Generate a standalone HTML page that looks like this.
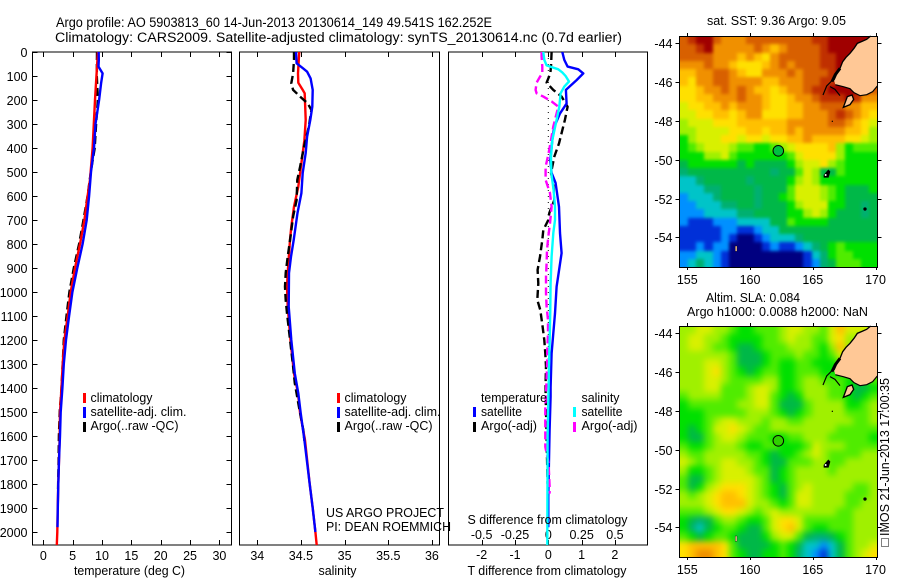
<!DOCTYPE html>
<html>
<head>
<meta charset="utf-8">
<title>Argo profile</title>
<style>
html,body{margin:0;padding:0;background:#fff;}
svg{display:block;}
text{font-family:"Liberation Sans",sans-serif;font-size:12.5px;fill:#000;}
.title{font-size:13.5px;}
</style>
</head>
<body>
<svg id="root" xmlns="http://www.w3.org/2000/svg" width="900" height="580" viewBox="0 0 900 580">
  <defs>
    <filter id="sst-soften" color-interpolation-filters="sRGB"><feGaussianBlur stdDeviation="1.6"/></filter>
    <filter id="sla-soften" color-interpolation-filters="sRGB"><feGaussianBlur stdDeviation="3.2"/></filter>
    <clipPath id="sst-clip"><rect x="679.5" y="36" width="198" height="231"/></clipPath>
    <clipPath id="sla-clip"><rect x="679.5" y="326" width="198" height="231"/></clipPath>
  </defs>
  <rect x="0" y="0" width="900" height="580" fill="#fff"/>
  <text class="title" x="56" y="27" textLength="436" lengthAdjust="spacingAndGlyphs">Argo profile: AO 5903813_60 14-Jun-2013 20130614_149 49.541S 162.252E</text>
  <text class="title" x="55" y="42" textLength="567" lengthAdjust="spacingAndGlyphs">Climatology: CARS2009. Satellite-adjusted climatology: synTS_20130614.nc (0.7d earlier)</text>

  <g id="plots"></g>

  <g>
    <rect x="83" y="393" width="3" height="10" fill="#f00"/>
    <rect x="83" y="407" width="3" height="11" fill="#00f"/>
    <rect x="83" y="422" width="3" height="10" fill="#000"/>
    <text x="90.5" y="402" textLength="62" lengthAdjust="spacingAndGlyphs">climatology</text>
    <text x="90.5" y="416" textLength="96" lengthAdjust="spacingAndGlyphs">satellite-adj. clim.</text>
    <text x="90.5" y="430" textLength="88" lengthAdjust="spacingAndGlyphs">Argo(..raw -QC)</text>
  </g>
  <g>
    <rect x="337" y="393" width="3" height="10" fill="#f00"/>
    <rect x="337" y="407" width="3" height="11" fill="#00f"/>
    <rect x="337" y="422" width="3" height="10" fill="#000"/>
    <text x="344.5" y="402" textLength="62" lengthAdjust="spacingAndGlyphs">climatology</text>
    <text x="344.5" y="416" textLength="96" lengthAdjust="spacingAndGlyphs">satellite-adj. clim.</text>
    <text x="344.5" y="430" textLength="88" lengthAdjust="spacingAndGlyphs">Argo(..raw -QC)</text>
  </g>
  <g>
    <text x="481" y="402" textLength="66" lengthAdjust="spacingAndGlyphs">temperature</text>
    <text x="581.5" y="402" textLength="38" lengthAdjust="spacingAndGlyphs">salinity</text>
    <rect x="473" y="407" width="3" height="10" fill="#00f"/>
    <rect x="473" y="422" width="3" height="10" fill="#000"/>
    <rect x="573" y="407" width="3" height="10" fill="#0ff"/>
    <rect x="573" y="422" width="3" height="10" fill="#f0f"/>
    <text x="481" y="416" textLength="41" lengthAdjust="spacingAndGlyphs">satellite</text>
    <text x="481" y="430" textLength="56" lengthAdjust="spacingAndGlyphs">Argo(-adj)</text>
    <text x="581.5" y="416" textLength="41" lengthAdjust="spacingAndGlyphs">satellite</text>
    <text x="581.5" y="430" textLength="56" lengthAdjust="spacingAndGlyphs">Argo(-adj)</text>
  </g>

  <text x="326" y="517" textLength="118" lengthAdjust="spacingAndGlyphs">US ARGO PROJECT</text>
  <text x="326" y="531" textLength="125" lengthAdjust="spacingAndGlyphs">PI: DEAN ROEMMICH</text>

  <text x="74" y="575" textLength="111" lengthAdjust="spacingAndGlyphs">temperature (deg C)</text>
  <text x="318.5" y="575" textLength="38" lengthAdjust="spacingAndGlyphs">salinity</text>
  <text x="467.5" y="524" textLength="160" lengthAdjust="spacingAndGlyphs">S difference from climatology</text>
  <text x="467.5" y="575" textLength="159" lengthAdjust="spacingAndGlyphs">T difference from climatology</text>

  <text x="707" y="25" textLength="139" lengthAdjust="spacingAndGlyphs">sat. SST: 9.36 Argo: 9.05</text>
  <text x="706" y="302" textLength="94" lengthAdjust="spacingAndGlyphs">Altim. SLA: 0.084</text>
  <text x="687" y="316" textLength="181" lengthAdjust="spacingAndGlyphs">Argo h1000: 0.0088 h2000: NaN</text>

  <g id="maps"></g>

  <g>
    <rect x="881.5" y="538.5" width="7" height="8" fill="none" stroke="#000" stroke-width="1" stroke-dasharray="1 1"/>
  </g>
  <text transform="translate(889,536) rotate(-90)" x="0" y="0" textLength="158" lengthAdjust="spacingAndGlyphs">IMOS 21-Jun-2013 17:00:35</text>
</svg>

<script>
/* ---------- profile data ---------- */
const tempClimDepth = [0,200,400,533,600,700,800,900,1000,1100,1200,1300,1400,1500,1600,1700,1800,1900,2000,2054];
const tempClimValue = [9.3,8.8,8.4,7.95,7.55,7.0,6.25,5.4,4.67,4.15,3.6,3.3,3.1,2.85,2.8,2.67,2.55,2.45,2.38,2.3];
const tempSatDepth = [0,33,61,89,130,200,300,400,500,600,700,800,900,1000,1100,1200,1300,1400,1500,1600,1700,1800,1900,1980];
const tempSatValue = [9.43,9.45,9.4,10.1,9.85,9.5,8.9,8.63,8.13,7.8,7.4,6.7,5.8,4.95,4.4,3.87,3.5,3.25,2.97,2.85,2.67,2.55,2.47,2.42];
const tempArgoDepth = [0,100,200,300,400,500,600,700,800,900,1000,1100,1200,1300,1400,1500,1600,1700,1830];
const tempArgoValue = [9.15,9.12,9.3,9.0,8.75,8.1,7.55,6.85,6.1,5.2,4.45,3.95,3.5,3.3,3.1,2.8,2.65,2.6,2.5];

const salClimDepth = [0,89,128,158,172,283,367,421,504,561,645,728,783,921,978,1061,1200,1339,1422,1505,1617,1800,1900,2000,2054];
const salClimValue = [34.48,34.466,34.47,34.52,34.543,34.554,34.54,34.52,34.49,34.47,34.42,34.39,34.375,34.348,34.34,34.348,34.38,34.42,34.466,34.49,34.546,34.6,34.635,34.665,34.68];
const salSatDepth = [0,47,67,82,110,158,228,283,353,421,504,588,671,783,853,921,1061,1200,1339,1422,1505,1617,1800,1900,2000];
const salSatValue = [34.443,34.45,34.52,34.57,34.61,34.635,34.63,34.607,34.57,34.554,34.52,34.505,34.46,34.417,34.386,34.363,34.36,34.39,34.43,34.47,34.497,34.54,34.6,34.635,34.665];
const salArgoDepth = [0,33,89,130,158,186,215,242,311,395,478,533,617,686,770,853,921,978,1033,1089,1172,1311,1380,1478,1575,1620];
const salArgoValue = [34.42,34.42,34.41,34.39,34.41,34.49,34.58,34.62,34.59,34.535,34.49,34.458,34.45,34.41,34.38,34.348,34.325,34.317,34.325,34.34,34.367,34.41,34.43,34.477,34.527,34.54];

const diffTSatDepth = [0,33,61,72,89,117,158,215,256,311,367,450,504,546,645,754,838,894,978,1089,1172,1256,1397,1436,1575,1783,1854,1980];
const diffTSatValue = [0.42,0.48,0.58,0.9,1.05,0.85,0.53,0.55,0.35,0.18,0.12,0.06,0.1,0.22,0.32,0.35,0.4,0.34,0.25,0.2,0.15,0.1,0.07,0.07,0.04,0.01,0,0];
const diffTArgoDepth = [0,61,89,128,158,186,228,283,381,436,504,546,617,671,700,742,783,853,908,964,1033,1075,1144,1200,1256,1311,1380,1420,1800];
const diffTArgoValue = [0.1,0.08,0.06,-0.05,0.15,0.4,0.58,0.5,0.32,0.18,0.08,0.15,0.18,0.03,0,-0.15,-0.18,-0.25,-0.32,-0.3,-0.33,-0.24,-0.17,-0.12,-0.09,-0.07,-0.08,-0.08,-0.02];
const diffSSatDepth = [0,33,56,72,85,100,123,144,172,228,283,367,436,504,575,645,700,754,853,964,1075,1214,1311,1400,1600,2054];
const diffSSatValue = [-0.0375,-0.03,-0.0125,0.075,0.105,0.13,0.155,0.12,0.0925,0.0825,0.0625,0.03,0.02,0.0225,0.04,0.05,0.05,0.0375,0.025,0.0175,0.015,0.01,0.005,0.0025,-0.005,-0.0075];
const diffSArgoDepth = [0,19,61,89,103,128,158,172,186,206,228,256,311,367,428,478,533,588,645,714,769,825,880,936,1006,1060,1117,1172,1242,1311,1394,1478,1645,1714,1811,1840];
const diffSArgoValue = [-0.05,-0.05,-0.045,-0.045,-0.0625,-0.0875,-0.095,-0.0875,-0.0375,0.025,0.075,0.0625,0.0375,0.02,0,-0.02,-0.02,0.0125,0.025,0.0125,0,-0.01,-0.0125,-0.0175,-0.0175,-0.0125,-0.0025,-0.0025,-0.0075,-0.01,-0.015,-0.0225,-0.0225,0.0025,0.01,0.01];

/* ---------- tick labels ---------- */
const depthTicks = [0,100,200,300,400,500,600,700,800,900,1000,1100,1200,1300,1400,1500,1600,1700,1800,1900,2000];
const tempTicks = [0,5,10,15,20,25,30];
const salTicks = [34,34.5,35,35.5,36];
const diffTTicks = [-2,-1,0,1,2];
const diffSTicks = [-0.5,-0.25,0,0.25,0.5];
const mapLonTicks = [155,160,165,170];
const mapLatTicks = [-44,-46,-48,-50,-52,-54];

/* ---------- map grids: colour-level index per cell, north to south, west to east ---------- */
const mapLevelColors = ["#000080","#0030d8","#0090ff","#00c4c8","#00b070","#00b848","#00e000","#50ec00","#a0f000","#d8f000","#ffe000","#ffc000","#f09000","#d86000","#c03000","#a00000"];
const sstGrid = [
[13,14,15,15,13,12,12,12,13,13,13,13,13,13,13,13,14,14,15,15,15,15,15,15],
[13,13,14,15,12,12,12,12,12,13,12,11,12,13,13,13,13,14,15,15,15,15,15,15],
[13,13,13,13,12,12,12,11,12,11,10,12,13,13,13,13,13,14,14,15,15,15,15,15],
[12,12,12,13,12,12,11,10,10,10,11,12,13,12,13,13,13,14,14,15,15,15,15,15],
[11,11,12,12,13,13,12,11,10,10,12,12,12,13,12,13,13,13,14,15,15,15,15,15],
[11,10,12,12,13,13,12,12,12,12,11,11,12,12,12,13,13,14,14,15,15,15,15,15],
[10,10,11,12,12,13,12,13,12,11,11,10,11,12,12,13,14,14,15,15,15,15,15,13],
[10,10,11,11,12,12,12,13,12,12,11,10,10,11,12,12,13,14,14,14,15,14,12,12],
[9,10,10,11,11,12,11,12,12,12,11,10,10,11,11,12,12,13,13,13,12,12,11,11],
[9,9,10,10,11,11,10,11,12,12,10,10,10,11,11,12,12,12,13,14,13,12,11,10],
[8,9,9,9,10,10,10,11,11,11,11,11,11,12,12,12,12,12,13,13,12,11,10,9],
[8,8,9,9,9,9,10,10,11,11,10,11,11,12,11,12,12,12,12,12,11,11,10,8],
[6,8,9,9,9,10,10,9,10,10,9,10,10,11,11,12,11,11,11,11,10,10,9,8],
[6,7,8,9,9,9,8,7,7,6,6,7,8,9,10,10,10,10,11,8,6,7,7,7],
[6,6,6,8,8,9,7,6,6,6,6,6,6,7,9,10,10,10,10,8,6,6,6,6],
[5,6,6,6,6,6,6,5,6,5,5,5,5,6,8,9,9,10,8,7,6,6,6,6],
[4,5,5,5,5,5,5,5,5,5,5,4,5,5,7,9,8,5,5,7,6,6,6,6],
[3,3,4,5,5,5,5,5,4,5,5,5,5,6,8,9,8,6,6,6,6,6,6,6],
[3,3,3,4,4,5,5,5,5,4,5,5,5,7,9,9,9,8,7,6,5,5,5,6],
[2,3,3,3,4,5,5,5,5,4,5,5,6,7,9,9,9,8,7,6,5,5,5,5],
[2,2,3,3,3,4,4,5,5,4,5,5,5,6,8,9,9,9,6,6,5,5,4,5],
[2,2,2,3,3,3,3,4,4,5,5,5,5,6,6,8,9,8,6,5,5,5,4,5],
[2,1,1,1,2,2,2,3,3,3,3,5,5,7,6,6,6,6,5,5,5,5,5,5],
[1,1,1,1,1,2,2,1,1,2,3,3,5,5,5,5,5,5,5,5,5,5,5,5],
[1,1,1,1,1,2,1,0,0,1,2,3,3,3,4,5,5,5,5,5,5,5,5,5],
[1,1,2,1,2,2,0,0,0,0,1,2,1,1,2,3,4,5,6,7,6,6,6,6],
[2,2,3,3,2,1,0,0,0,0,0,0,0,0,0,1,3,4,6,7,7,6,6,6],
[2,3,4,3,2,1,0,0,0,0,0,0,0,0,0,1,2,4,5,7,7,7,6,6]
];
const slaGrid = [
[8,8,9,9,8,8,7,6,6,7,7,7,8,9,9,8,8,7,9,11,9,9,9,8],
[8,9,9,8,8,7,6,6,6,6,7,7,8,9,8,8,7,7,9,10,8,8,8,8],
[8,9,9,8,7,7,6,5,5,6,7,7,7,8,8,8,7,6,8,11,8,8,8,8],
[8,8,8,8,8,8,7,5,5,5,6,7,7,7,8,7,7,6,7,9,8,8,8,8],
[8,8,8,9,9,8,7,5,5,5,6,7,6,6,7,7,6,6,6,7,8,8,8,8],
[8,8,8,9,10,8,7,6,5,6,7,7,6,6,7,7,7,6,6,6,7,7,8,8],
[8,8,8,9,9,8,7,7,7,7,8,8,6,6,7,8,8,7,7,7,6,6,6,7],
[8,8,8,9,9,7,7,7,8,9,9,8,6,6,7,8,8,8,7,7,6,5,5,6],
[7,8,8,8,8,7,7,7,8,9,9,7,6,5,6,8,8,8,7,7,6,5,6,7],
[6,7,7,7,7,7,7,8,8,9,9,7,5,5,5,7,8,8,8,8,6,6,7,8],
[6,6,6,7,7,7,7,7,8,8,8,7,6,5,6,7,8,8,8,8,7,7,7,8],
[6,6,6,7,8,9,9,8,8,8,7,8,8,7,7,8,8,8,8,8,8,7,7,8],
[6,5,6,7,9,9,10,9,8,7,7,8,8,8,8,8,8,8,8,7,7,7,7,7],
[6,5,5,7,8,9,9,8,7,7,7,6,6,7,7,8,8,8,7,7,7,7,7,6],
[7,6,6,7,8,8,8,7,6,6,7,7,6,6,6,7,9,8,8,8,7,7,7,7],
[8,7,7,8,8,8,8,8,7,7,6,5,6,6,7,8,9,8,7,7,7,7,8,8],
[9,8,7,8,8,9,9,8,8,7,6,5,5,7,7,7,8,8,7,7,8,8,8,8],
[8,6,6,7,8,9,9,9,8,7,7,5,6,7,8,8,8,8,7,8,8,8,8,8],
[7,5,5,7,8,9,9,9,9,8,7,5,6,7,8,8,8,8,8,8,8,8,8,8],
[7,5,6,8,9,10,10,10,9,8,7,6,5,7,8,9,8,8,8,8,8,7,7,8],
[8,7,8,9,10,11,11,10,9,8,7,6,5,7,9,9,8,8,8,8,7,7,7,8],
[8,8,8,9,10,11,11,11,9,8,8,7,6,7,9,9,8,8,8,8,7,7,8,8],
[7,7,7,8,9,10,10,9,8,7,8,9,8,8,8,8,8,8,8,7,7,8,8,8],
[6,5,4,5,7,8,8,7,6,6,7,9,10,10,9,7,7,7,7,7,7,8,8,8],
[6,4,3,5,6,7,7,6,5,5,7,9,10,11,9,7,6,6,7,7,7,8,8,8],
[7,6,5,6,7,7,6,5,5,5,6,8,9,9,7,5,4,4,5,6,7,8,8,8],
[10,11,11,11,11,10,7,5,5,5,5,6,7,6,5,3,3,2,3,5,7,8,8,9],
[10,11,12,12,11,10,7,6,5,5,6,6,7,6,4,3,2,1,3,5,7,8,9,10]
];

/* ---------- helpers ---------- */
const NS = "http://www.w3.org/2000/svg";
const plots = document.getElementById("plots");
const maps = document.getElementById("maps");
function make(tag, attrs, parent, txt){
  const el = document.createElementNS(NS, tag);
  for (const k in attrs) el.setAttribute(k, attrs[k]);
  if (txt !== undefined) el.textContent = txt;
  parent.appendChild(el);
  return el;
}
const TOP = 52, BOTTOM = 545;
function yDepth(d){ return TOP + d * 0.24; }
function xTemp(v){ return 43.3 + 5.87 * v; }
function xSal(v){ return 257.3 + 87.3 * (v - 34); }
function xDiffT(v){ return 548.3 + 33.3 * v; }
function xDiffS(v){ return 548.3 + 133.3 * v; }
function fmt(v){ return String(v); }

function drawBox(name, x0, x1){
  const el = make("rect", {x:x0, y:TOP, width:x1-x0, height:BOTTOM-TOP, fill:"none", stroke:"#000", "stroke-width":1, "shape-rendering":"crispEdges"}, plots);
  
  
}
function drawXTicks(name, ticks, scale, labelY){
  ticks.forEach(function(t){
    const x = Math.round(scale(t)) + 0.5;
    const a = make("line", {x1:x, x2:x, y1:TOP, y2:TOP+5, stroke:"#000", "stroke-width":1, "shape-rendering":"crispEdges"}, plots);
    
    
    const b = make("line", {x1:x, x2:x, y1:BOTTOM-5, y2:BOTTOM, stroke:"#000", "stroke-width":1, "shape-rendering":"crispEdges"}, plots);
    
    
    const l = make("text", {x:scale(t), y:labelY, "text-anchor":"middle"}, plots, fmt(t));
    
    
  });
}
function drawSeries(name, depths, values, scale, color, dash, width){
  const pts = depths.map(function(d,i){ return scale(values[i]).toFixed(1) + "," + yDepth(d).toFixed(1); }).join(" ");
  const el = make("polyline", {points:pts, fill:"none", stroke:color, "stroke-width":width, "stroke-linejoin":"round"}, plots);
  if (dash) el.setAttribute("stroke-dasharray", dash);
  
  
}

/* ---------- panels ---------- */
drawBox("temperature-plot-frame", 32.5, 231.5);
drawBox("salinity-plot-frame", 239.5, 439.5);
drawBox("difference-plot-frame", 448.5, 647.5);

depthTicks.forEach(function(d){
  const y = Math.round(yDepth(d)) + 0.5;
  const a = make("line", {x1:32.5, x2:37.5, y1:y, y2:y, stroke:"#000", "stroke-width":1, "shape-rendering":"crispEdges"}, plots);
  
  
  const b = make("line", {x1:226.5, x2:231.5, y1:y, y2:y, stroke:"#000", "stroke-width":1, "shape-rendering":"crispEdges"}, plots);
  
  
  const l = make("text", {x:27.5, y:y+4.5, "text-anchor":"end"}, plots, fmt(d));
  
  
});

drawXTicks("temperature-axis", tempTicks, xTemp, 560);
drawXTicks("salinity-axis", salTicks, xSal, 560);
drawXTicks("t-difference-axis", diffTTicks, xDiffT, 559);

diffSTicks.forEach(function(t){
  const l = make("text", {x:xDiffS(t), y:539, "text-anchor":"middle"}, plots, fmt(t));
  
  
});

drawSeries("temperature-argo-line", tempArgoDepth, tempArgoValue, xTemp, "#000", "8 4", 2.4);
drawSeries("temperature-climatology-line", tempClimDepth, tempClimValue, xTemp, "#f00", null, 2.4);
drawSeries("temperature-satellite-line", tempSatDepth, tempSatValue, xTemp, "#00f", null, 2.4);

drawSeries("salinity-climatology-line", salClimDepth, salClimValue, xSal, "#f00", null, 2.4);
drawSeries("salinity-argo-line", salArgoDepth, salArgoValue, xSal, "#000", "8 4", 2.4);
drawSeries("salinity-satellite-line", salSatDepth, salSatValue, xSal, "#00f", null, 2.4);

const zero = make("line", {x1:xDiffT(0), x2:xDiffT(0), y1:TOP, y2:yDepth(1500), stroke:"#000", "stroke-width":1, "stroke-dasharray":"1 5"}, plots);


drawSeries("t-difference-argo-line", diffTArgoDepth, diffTArgoValue, xDiffT, "#000", "8 4", 2.4);
drawSeries("t-difference-satellite-line", diffTSatDepth, diffTSatValue, xDiffT, "#00f", null, 2.4);
drawSeries("s-difference-argo-line", diffSArgoDepth, diffSArgoValue, xDiffS, "#f0f", "8 4", 2.4);
drawSeries("s-difference-satellite-line", diffSSatDepth, diffSSatValue, xDiffS, "#0ff", null, 2.4);

/* ---------- maps ---------- */
const MAP_L = 679.5, MAP_R = 877.5, MAP_W = MAP_R - MAP_L;
function mapX(lon){ return 687.3 + (lon - 155) * 12.55; }

function drawMap(name, grid, top, bottom, latTop, circleFill, labelY, clipId, softenId){
  const H = bottom - top;
  const rows = grid.length, cols = grid[0].length;
  const mapY = function(lat){ return latTop + (-44 - lat) * 19.4; };
  const clipGroup = make("g", {"clip-path":"url(#" + clipId + ")"}, maps);
  
  
  const heat = make("g", {filter:"url(#" + softenId + ")"}, clipGroup);
  
  
  grid.forEach(function(row, r){
    row.forEach(function(level, c){
      let x0 = Math.round(MAP_L + c * MAP_W / cols);
      let x1 = Math.round(MAP_L + (c + 1) * MAP_W / cols);
      let y0 = Math.round(top + r * H / rows);
      let y1 = Math.round(top + (r + 1) * H / rows);
      /* outer cells run past the clip so softening does not fade at the frame */
      if (c === 0) x0 -= 14;
      if (c === cols - 1) x1 += 14;
      if (r === 0) y0 -= 14;
      if (r === rows - 1) y1 += 14;
      const cell = make("rect", {x:x0, y:y0, width:x1-x0, height:y1-y0, fill:mapLevelColors[level], "shape-rendering":"crispEdges"}, heat);
      
      
    });
  });

  /* coast artwork, in 3x zoom coordinates of the map crop */
  const g = make("g", {transform:"translate(650," + (top - 36) + ") scale(0.33333)"}, maps);
  
  
  const land = make("path", {d:"M660,108 L650,118 L636,124 L622,130 L612,145 L600,160 L588,172 L578,185 L570,205 L560,222 L552,240 L556,254 L580,260 L600,266 L612,278 L630,287 L650,284 L668,275 L682,258 L682,108 Z", fill:"#ffc896", stroke:"none"}, g);
  
  
  const west = make("path", {d:"M662,108 L650,118 L636,124 L622,130 L612,145 L600,160 L588,172 L578,185 L570,205 L560,222 L552,240", fill:"none", stroke:"#000", "stroke-width":4}, g);
  
  
  const fiord = make("path", {d:"M570,205 L556,224 L546,245", fill:"none", stroke:"#000", "stroke-width":9}, g);
  
  
  const south = make("path", {d:"M548,240 L530,258 L519,285 M540,260 L555,268 L570,287 M556,254 L580,260 L600,266 L612,278", fill:"none", stroke:"#000", "stroke-width":3.5}, g);
  
  
  const southEast = make("path", {d:"M612,278 L630,287 L650,284 L668,275 L682,258", fill:"none", stroke:"#000", "stroke-width":3.5}, g);
  
  
  const stewart = make("path", {d:"M592,290 L606,285 L611,298 L600,314 L580,322 Z", fill:"#ffc896", stroke:"#000", "stroke-width":4}, g);
  
  
  const auckland = make("path", {d:"M522,525 L535,510 L540,515 L535,532 L522,532 Z", fill:"#000", stroke:"#000", "stroke-width":2}, g);
  
  
  const aucklandHi = make("circle", {cx:527, cy:525, r:3, fill:"#fff"}, g);
  
  
  const campbell = make("circle", {cx:645, cy:627, r:5, fill:"#000"}, g);
  
  
  const macquarie = make("rect", {x:256, y:738, width:5, height:16, fill:"#ffc896", stroke:"#000", "stroke-width":1}, g);
  
  
  const rock = make("circle", {cx:547, cy:364, r:2, fill:"#000"}, g);
  
  

  /* profile marker */
  const marker = make("circle", {cx:mapX(162.252), cy:mapY(-49.541), r:5.3, fill:circleFill, stroke:"#000", "stroke-width":1}, maps);
  
  

  /* frame */
  const frame = make("rect", {x:MAP_L, y:top + 0.5, width:MAP_W, height:H, fill:"none", stroke:"#000", "stroke-width":1, "shape-rendering":"crispEdges"}, maps);
  
  

  mapLonTicks.forEach(function(lon){
    const x = Math.round(mapX(lon)) + 0.5;
    const t1 = make("line", {x1:x, x2:x, y1:top-3, y2:top, stroke:"#000", "stroke-width":1, "shape-rendering":"crispEdges"}, maps);
    
    
    const t2 = make("line", {x1:x, x2:x, y1:bottom, y2:bottom+3, stroke:"#000", "stroke-width":1, "shape-rendering":"crispEdges"}, maps);
    
    
    const lab = make("text", {x:mapX(lon), y:labelY, "text-anchor":"middle"}, maps, fmt(lon));
    
    
  });
  mapLatTicks.forEach(function(lat){
    const y = Math.round(mapY(lat)) + 0.5;
    const t1 = make("line", {x1:MAP_L-4, x2:MAP_L, y1:y, y2:y, stroke:"#000", "stroke-width":1, "shape-rendering":"crispEdges"}, maps);
    
    
    const t2 = make("line", {x1:MAP_R, x2:MAP_R+4, y1:y, y2:y, stroke:"#000", "stroke-width":1, "shape-rendering":"crispEdges"}, maps);
    
    
    const lab = make("text", {x:672.5, y:y+4.5, "text-anchor":"end"}, maps, fmt(lat));
    
    
  });
}

drawMap("sst-map", sstGrid, 36, 267, 43.3, "#00c040", 284, "sst-clip", "sst-soften");
drawMap("sla-map", slaGrid, 326, 557, 333.3, "#30d000", 574, "sla-clip", "sla-soften");
</script>
</body>
</html>
